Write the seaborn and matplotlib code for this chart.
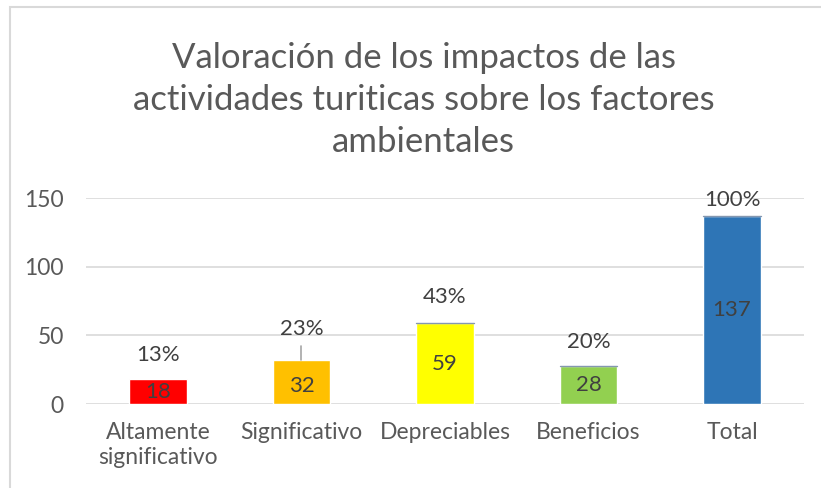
import matplotlib
matplotlib.use('Agg')
import matplotlib.pyplot as plt
import seaborn as sns
import pandas as pd
from matplotlib.patches import Rectangle

# datos del grafico
categorias = ['Altamente\nsignificativo', 'Significativo', 'Depreciables', 'Beneficios', 'Total']
valores = [18, 32, 59, 28, 137]
porcentajes = ['13%', '23%', '43%', '20%', '100%']
colores = ['#FF0000', '#FFC000', '#FFFF00', '#92D050', '#2E75B6']

df = pd.DataFrame({'cat': categorias, 'val': valores})

sns.set_style('white')
plt.rcParams['font.family'] = ['Lato', 'DejaVu Sans']

gris = '#595959'
fig = plt.figure(figsize=(8.21, 4.88), dpi=100)
ax = fig.add_axes([0.105, 0.172, 0.874, 0.422])

sns.barplot(data=df, x='cat', y='val', hue='cat', palette=colores, legend=False,
            width=0.40, ax=ax, saturation=1, zorder=3)

ax.set_ylim(0, 150)
ax.set_yticks([0, 50, 100, 150])
ax.set_xlim(-0.5, 4.5)
ax.grid(axis='y', color='#d9d9d9', lw=1.2, zorder=0)
for s in ax.spines.values():
    s.set_visible(False)
ax.set_xlabel('')
ax.set_ylabel('')
ax.tick_params(axis='both', length=0, labelsize=16.5, labelcolor=gris)
ax.tick_params(axis='y', pad=16)
ax.tick_params(axis='x', pad=13)
for t in ax.get_xticklabels():
    t.set_linespacing(1.25)

# etiquetas de valor dentro de las barras
pos_valor = [0.5, 0.42, 0.5, 0.5, 0.5]
for i, v in enumerate(valores):
    ax.text(i, v * pos_valor[i], str(v), ha='center', va='center', fontsize=16, color='#404040', zorder=5)

# porcentajes encima de las barras
desplaz = [17.5, 23, 19, 17, 11.5]
for i, v in enumerate(valores):
    ax.text(i, v + desplaz[i], porcentajes[i], ha='center', va='center', fontsize=16, color='#404040', zorder=5)

# linea guia para la barra naranja
ax.plot([1, 1], [32, 42], color='#a6a6a6', lw=1.2, zorder=4)

# linea fina en el borde superior de algunas barras
for i in [2, 3, 4]:
    ax.plot([i - 0.2, i + 0.2], [valores[i], valores[i]], color='#8497b0', lw=1, zorder=4)

fig.text(0.516, 0.795, 'Valoración de los impactos de las\nactividades turiticas sobre los factores\nambientales',
         ha='center', va='center', fontsize=25, color=gris, linespacing=1.38, fontweight='normal')

# borde del grafico
fig.patches.append(Rectangle((10 / 821, -0.01), 1.0, 1 - 7 / 488 + 0.01, transform=fig.transFigure,
                             fill=False, edgecolor='#d9d9d9', lw=1.5))

fig.savefig('out.png', dpi=100)
